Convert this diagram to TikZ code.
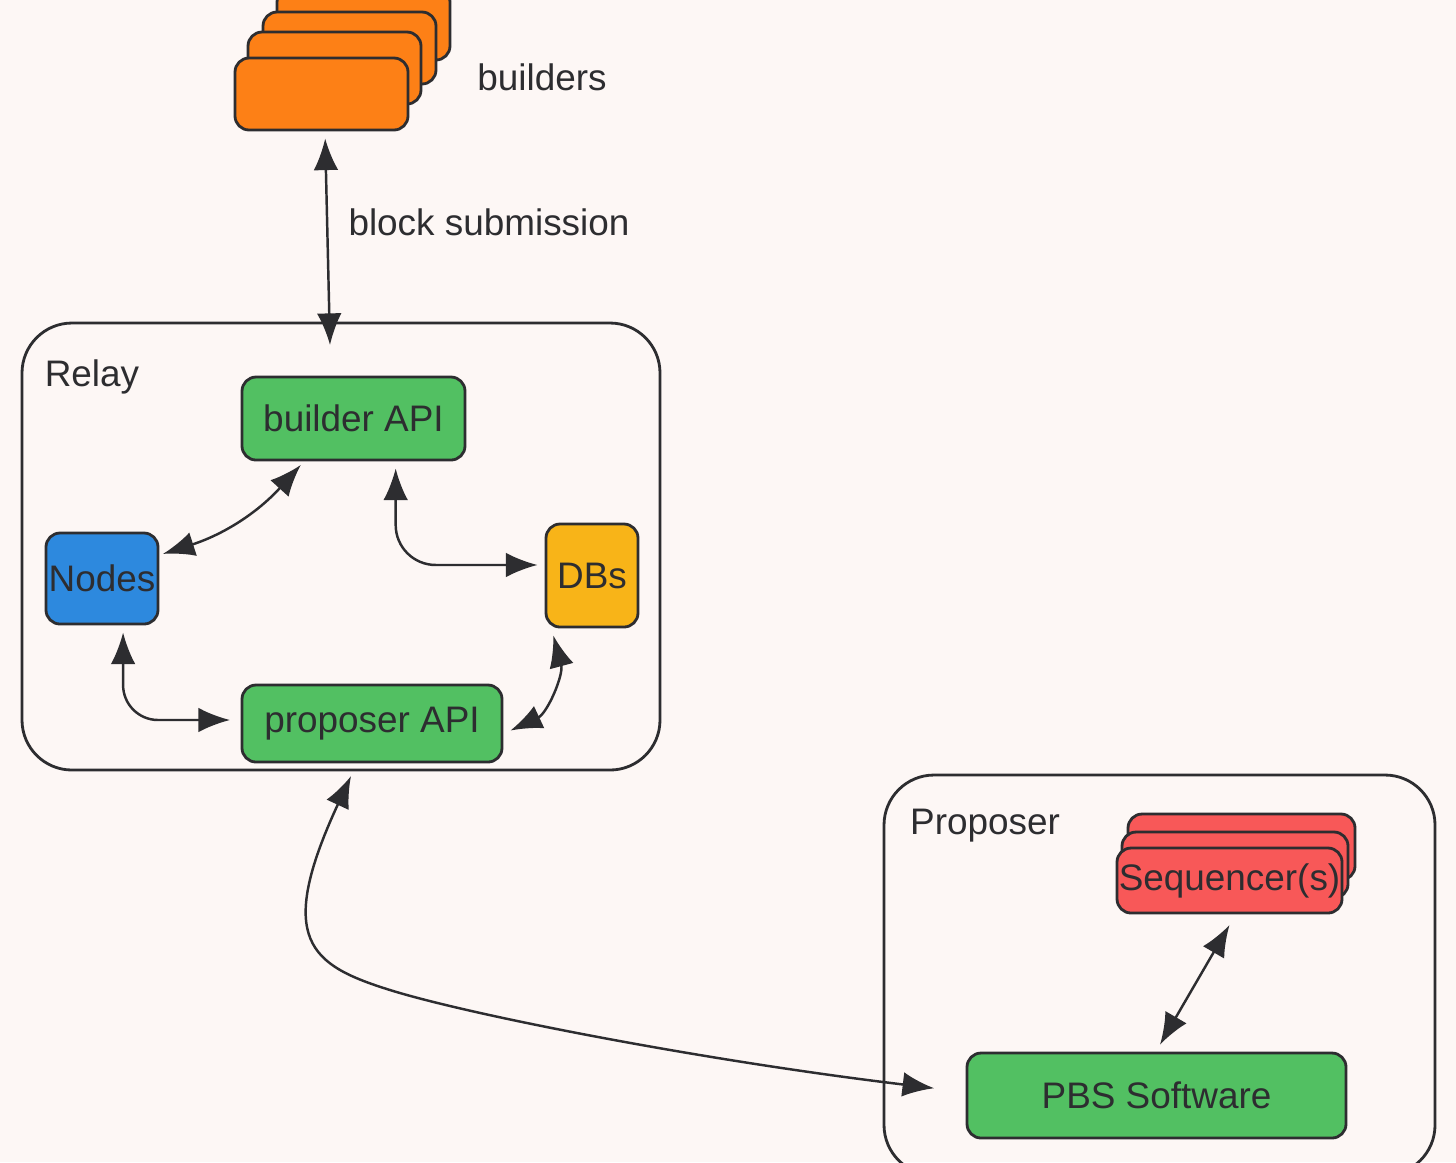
\documentclass[tikz,border=0pt]{standalone}
\usepackage{fontspec}
\setmainfont{Liberation Sans}
\usepackage{tikz}
\usetikzlibrary{calc}
\usetikzlibrary{arrows.meta}
\usetikzlibrary{positioning}
\definecolor{paper}{RGB}{253,247,245}
\definecolor{ink}{RGB}{45,45,48}
\definecolor{apigreen}{RGB}{82,192,98}
\definecolor{nodeblue}{RGB}{45,137,222}
\definecolor{dbyellow}{RGB}{248,180,24}
\definecolor{buildorange}{RGB}{253,128,22}
\definecolor{seqred}{RGB}{248,88,88}
\tikzset{>={Latex[length=9pt,width=7pt]}}
\tikzstyle{box} = [rectangle, rounded corners=4pt, draw=ink, line width=0.8pt, inner sep=0pt, text=ink, font=\fontsize{10.5}{12}\selectfont]
\tikzstyle{frame} = [rectangle, rounded corners=0.5cm, draw=ink, line width=0.8pt]
\tikzstyle{link} = [<->, draw=ink, line width=0.7pt]
\tikzstyle{lbl} = [text=ink, font=\fontsize{10.5}{12}\selectfont]

\begin{document}
\begin{tikzpicture}
\fill [paper] (0, 0) rectangle (14.56, -11.62);
\useasboundingbox (0, 0) rectangle (14.56, -11.62);

% containers
\node [frame, minimum width=6.38cm, minimum height=4.47cm] (relay) at (3.41, -5.465) {};
\node [frame, minimum width=5.51cm, minimum height=4.0cm] (prop) at (11.595, -9.75) {};
\node [lbl] (relaylbl) at (0.92, -3.77) {Relay};
\node [lbl] (proplbl) at (9.85, -8.26) {Proposer};

% builders stack
\node [box, fill=buildorange, minimum width=1.73cm, minimum height=0.72cm] (b4) at (3.635, -0.24) {};
\node [box, fill=buildorange, minimum width=1.73cm, minimum height=0.72cm] (b3) at (3.495, -0.48) {};
\node [box, fill=buildorange, minimum width=1.73cm, minimum height=0.72cm] (b2) at (3.345, -0.68) {};
\node [box, fill=buildorange, minimum width=1.73cm, minimum height=0.72cm] (b1) at (3.215, -0.94) {};
\node [lbl] (buildlbl) at (5.42, -0.77) {builders};

% relay parts
\node [box, fill=apigreen, minimum width=2.23cm, minimum height=0.83cm] (bapi) at (3.535, -4.185) {builder API};
\node [box, fill=nodeblue, minimum width=1.12cm, minimum height=0.91cm] (nodes) at (1.02, -5.785) {Nodes};
\node [box, fill=dbyellow, minimum width=0.92cm, minimum height=1.03cm] (dbs) at (5.92, -5.755) {DBs};
\node [box, fill=apigreen, minimum width=2.60cm, minimum height=0.77cm] (papi) at (3.72, -7.235) {proposer API};

% proposer parts
\node [box, fill=seqred, minimum width=2.27cm, minimum height=0.66cm] (seq3) at (12.415, -8.47) {};
\node [box, fill=seqred, minimum width=2.26cm, minimum height=0.66cm] (seq2) at (12.35, -8.65) {};
\node [box, fill=seqred, minimum width=2.25cm, minimum height=0.65cm] (seq1) at (12.295, -8.805) {Sequencer(s)};
\node [box, fill=apigreen, minimum width=3.79cm, minimum height=0.85cm] (pbs) at (11.565, -10.955) {PBS Software};

\coordinate (bsub) at (3.30, -3.45);
\coordinate (rout) at (3.51, -7.76);

\draw [link, shorten <=2pt] ([xshift=1pt]b1.south) to (bsub);
\node [lbl] (sublbl) at (4.89, -2.22) {block submission};
\draw [link] ([xshift=1pt, yshift=7pt]nodes.east) to [bend right=15] ([xshift=-15pt, yshift=-1pt]bapi.south);
\draw [link, rounded corners=0.4cm] ([xshift=12pt, yshift=-2pt]bapi.south) |- ([xshift=-2pt, yshift=3pt]dbs.west);
\draw [link, rounded corners=0.35cm] ([xshift=6pt, yshift=-2pt]nodes.south) |- ([xshift=-3pt, yshift=1pt]papi.west);
\draw [link] ([xshift=-11pt, yshift=-2pt]dbs.south) to [out=-75, in=25] ([xshift=2pt, yshift=-2pt]papi.east);
\draw [link, shorten >=9pt] (rout) .. controls (2.75, -9.4) and (3.1, -9.65) .. (3.9, -9.9)
  .. controls (4.7, -10.15) and (7.0, -10.6) .. ([yshift=1pt]pbs.west);
\draw [link] ([yshift=-3pt]seq1.south) to ([xshift=1pt, yshift=2pt]pbs.north);
\end{tikzpicture}
\end{document}
